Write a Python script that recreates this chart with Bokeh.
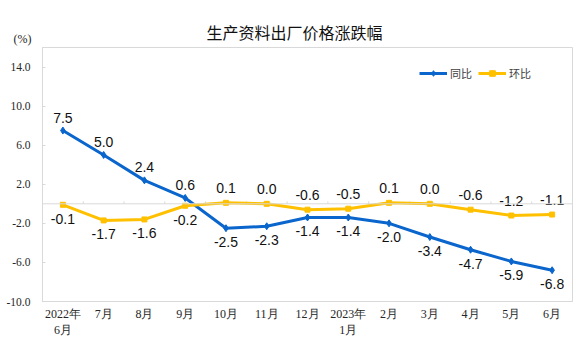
from bokeh.plotting import figure
from bokeh.models import FixedTicker, Span, Range1d, ColumnDataSource, PrintfTickFormatter, Title
from bokeh.core.properties import value
from bokeh.embed import file_html
from bokeh.resources import INLINE

categories = ["2022年\n6月", "7月", "8月", "9月", "10月", "11月", "12月",
              "2023年\n1月", "2月", "3月", "4月", "5月", "6月"]
yoy = [7.5, 5.0, 2.4, 0.6, -2.5, -2.3, -1.4, -1.4, -2.0, -3.4, -4.7, -5.9, -6.8]
mom = [-0.1, -1.7, -1.6, -0.2, 0.1, 0.0, -0.6, -0.5, 0.1, 0.0, -0.6, -1.2, -1.1]
y_ticks = [-10, -6, -2, 2, 6, 10, 14]
title_text = "生产资料出厂价格涨跌幅"
unit_text = "(%)"

BLUE = "#0A66CC"
YELLOW = "#FFC000"
GRAY = "#D9D9D9"

x = list(range(len(categories)))

p = figure(width=576, height=357, output_backend="svg", toolbar_location=None,
           x_range=Range1d(-0.5, len(categories) - 0.5), y_range=Range1d(-10, 16),
           min_border_left=42, min_border_right=4, min_border_top=47, min_border_bottom=56)
p.grid.visible = False
p.outline_line_color = GRAY
p.background_fill_color = "white"
p.border_fill_color = "white"

# zero line with small category ticks
p.add_layout(Span(location=0, dimension="width", line_color=GRAY, line_width=1))
bounds = [i + 0.5 for i in x[:-1]]
p.segment(x0=bounds, y0=[0] * len(bounds), x1=bounds, y1=[0.25] * len(bounds),
          line_color=GRAY, line_width=1)

# series
p.line(x, yoy, line_color=BLUE, line_width=3, legend_label="同比")
p.scatter(x, yoy, marker="diamond", size=7, color=BLUE, legend_label="同比")
p.line(x, mom, line_color=YELLOW, line_width=3, legend_label="环比")
p.scatter(x, mom, marker="square", size=5, color=YELLOW, legend_label="环比")

# data labels: each on the side away from the other line
yoy_off = [-13 if a > b else 14 for a, b in zip(yoy, mom)]
mom_off = [-15 if b > a else 14 for a, b in zip(yoy, mom)]
src = ColumnDataSource(dict(
    x=x + x, y=yoy + mom,
    t=[f"{v:.1f}" for v in yoy] + [f"{v:.1f}" for v in mom],
    off=yoy_off + mom_off))
p.text(x="x", y="y", text="t", y_offset="off", source=src, text_align="center",
       text_baseline="middle", text_font=value("Liberation Sans"),
       text_font_size="14px", text_color="#111111")

# axes
p.xaxis.ticker = FixedTicker(ticks=x)
p.xaxis.major_label_overrides = {i: c for i, c in zip(x, categories)}
p.xaxis.major_tick_line_color = None
p.xaxis.minor_tick_line_color = None
p.xaxis.axis_line_color = GRAY
p.xaxis.major_label_text_font = "Liberation Serif"
p.xaxis.major_label_text_font_size = "12px"
p.xaxis.major_label_text_color = "#262626"
p.xaxis.major_label_standoff = -1

p.yaxis.ticker = FixedTicker(ticks=y_ticks)
p.yaxis.formatter = PrintfTickFormatter(format="%.1f")
p.yaxis.major_tick_in = 3
p.yaxis.major_tick_out = 0
p.yaxis.major_tick_line_color = GRAY
p.yaxis.minor_tick_line_color = None
p.yaxis.axis_line_color = GRAY
p.yaxis.major_label_text_font = "Liberation Serif"
p.yaxis.major_label_text_font_size = "11.5px"
p.yaxis.major_label_text_color = "#262626"
p.yaxis.major_label_standoff = 12

# unit text as the y-axis label, horizontal at the top end
# (an empty second line lifts it above the frame's top edge)
p.yaxis.axis_label = unit_text + "\n "
p.yaxis.axis_label_orientation = "horizontal"
p.yaxis.axis_label_align = "end"
p.yaxis.axis_label_standoff = -28
p.yaxis.axis_label_text_font = "Liberation Serif"
p.yaxis.axis_label_text_font_size = "12px"
p.yaxis.axis_label_text_font_style = "normal"
p.yaxis.axis_label_text_color = "#262626"

# legend
lg = p.legend[0]
lg.orientation = "horizontal"
lg.location = (377, 220)
lg.background_fill_alpha = 0
lg.border_line_alpha = 0
lg.padding = 0
lg.margin = 0
lg.spacing = 6
lg.glyph_width = 28
lg.glyph_height = 14
lg.label_height = 14
lg.label_standoff = 3
lg.label_text_font = "Noto Sans CJK SC"
lg.label_text_font_size = "11px"
lg.label_text_color = "#404040"

# title
t = Title(text=title_text, align="left", offset=164, text_font="Noto Sans CJK SC",
          text_font_size="16px", text_font_style="normal", text_color="#111111",
          vertical_align="middle", standoff=6)
p.add_layout(t, "above")

open("out.html", "w").write(file_html(p, INLINE))
